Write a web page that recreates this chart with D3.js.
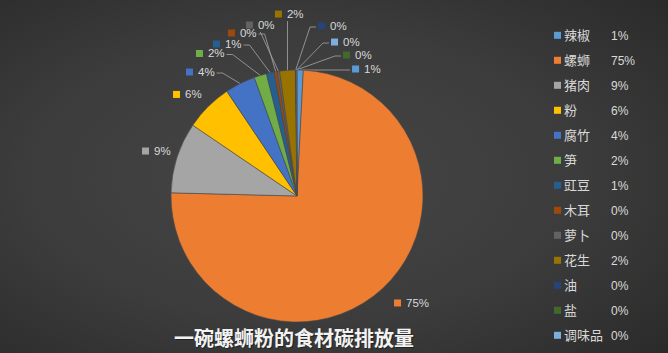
<!DOCTYPE html>
<html>
<head>
<meta charset="utf-8">
<script src="https://cdn.jsdelivr.net/npm/d3@7"></script>
<style>
  html, body { margin: 0; padding: 0; background: #333; }
  svg { display: block; }
</style>
</head>
<body>
<div id="chart"></div>
<script>
// data (share of total, %)
var names = ["辣椒", "螺蛳", "猪肉", "粉", "腐竹", "笋", "豇豆", "木耳", "萝卜", "花生", "油", "盐", "调味品"];
var shares = [0.8, 74.6, 9.1, 6.1, 3.9, 1.6, 1.0, 0.4, 0.3, 2.0, 0.08, 0.04, 0.08];
var colors = ["#5B9BD5", "#ED7D31", "#A5A5A5", "#FFC000", "#4472C4", "#70AD47",
              "#255E91", "#9E480E", "#636363", "#997300", "#264478", "#43682B", "#7CAFDD"];
var title = "一碗螺蛳粉的食材碳排放量";

// where each data label sits, relative to pie centre, in units of radius
var labelAt = [[0.437, -1.008], [0.770, 0.849], [-1.230, -0.357], [-0.984, -0.806],
               [-0.881, -0.984], [-0.802, -1.131], [-0.667, -1.206], [-0.548, -1.294],
               [-0.405, -1.357], [-0.175, -1.444], [0.167, -1.349], [0.365, -1.119],
               [0.270, -1.222]];

var width = 668, height = 353;
var cx = 297, cy = 196, r = 126;

var svg = d3.select("#chart").append("svg")
    .attr("width", width)
    .attr("height", height);

var defs = svg.append("defs");
var grad = defs.append("radialGradient")
    .attr("id", "bg")
    .attr("cx", "45%").attr("cy", "50%").attr("r", "75%");
grad.append("stop").attr("offset", "0%").attr("stop-color", "#464646");
grad.append("stop").attr("offset", "55%").attr("stop-color", "#3c3c3c");
grad.append("stop").attr("offset", "100%").attr("stop-color", "#2a2a2a");

svg.append("rect")
    .attr("width", width)
    .attr("height", height)
    .attr("fill", "url(#bg)");

var total = d3.sum(shares);
var pct = d3.format(".0%");

var pie = d3.pie().sort(null).value(function(d) { return d; });
var arcs = pie(shares);

var arc = d3.arc().innerRadius(0).outerRadius(r);

var g = svg.append("g").attr("transform", "translate(" + cx + "," + cy + ")");

g.selectAll(".slice")
  .data(arcs)
  .enter()
  .append("path")
  .attr("class", "slice")
  .attr("d", arc)
  .attr("fill", function(d, i) { return colors[i]; })
  .attr("stroke", "#4a4a4a")
  .attr("stroke-width", 0.6);

// data labels
var lab = g.selectAll(".lab")
  .data(arcs)
  .enter()
  .append("g")
  .attr("class", "lab")
  .attr("transform", function(d, i) {
      return "translate(" + (labelAt[i][0] * r) + "," + (labelAt[i][1] * r) + ")";
  });

lab.append("rect")
  .attr("x", 0).attr("y", -3.5)
  .attr("width", 7).attr("height", 7)
  .attr("fill", function(d, i) { return colors[i]; });

lab.append("text")
  .attr("x", 12)
  .attr("y", 4)
  .attr("fill", "#D9D9D9")
  .style("font-family", "'Liberation Sans', Arial, sans-serif")
  .style("font-size", "11.5px")
  .text(function(d) { return pct(d.value / total); });

// leader lines, only where the label is away from its slice
var leaders = g.append("g").lower();
g.select(".slice").lower();
lab.each(function(d, i) {
  var lx = labelAt[i][0] * r, ly = labelAt[i][1] * r;
  var tw = d3.select(this).select("text").node().getComputedTextLength();
  var x0 = lx - 2, x1 = lx + 12 + tw + 2, y0 = ly - 7, y1 = ly + 7;
  var mid = (d.startAngle + d.endAngle) / 2;
  var ax = Math.sin(mid) * r, ay = -Math.cos(mid) * r;
  var nx = Math.max(x0, Math.min(ax, x1)), ny = Math.max(y0, Math.min(ay, y1));
  if (Math.hypot(ax - nx, ay - ny) < 20) return;
  var bx = (x0 + x1) / 2, by = (y0 + y1) / 2;
  var dx = ax - bx, dy = ay - by;
  var pts;
  if (Math.abs(dx) > Math.abs(dy) * 0.75) {
    var sx = dx > 0 ? x1 : x0;
    var stub = dx > 0 ? 6 : -6;
    pts = [[sx, by + 1], [sx + stub, by + 1], [ax, ay]];
  } else {
    var ex = Math.abs(dx) < (x1 - x0) / 2 ? ax : bx;
    pts = [[ex, dy > 0 ? y1 : y0], [ax, ay]];
  }
  leaders.append("path")
    .attr("d", d3.line()(pts))
    .attr("fill", "none")
    .attr("stroke", "#A6A6A6")
    .attr("stroke-width", 0.8);
});
g.selectAll(".slice").raise();
lab.raise();

// legend
var legend = svg.append("g").attr("class", "legend");
var ly = d3.scalePoint().domain(names).range([35.3, 335.3]);

var row = legend.selectAll(".row")
  .data(names)
  .enter()
  .append("g")
  .attr("class", "row")
  .attr("transform", function(d) { return "translate(0," + ly(d) + ")"; });

row.append("rect")
  .attr("x", 554).attr("y", -3.5)
  .attr("width", 7).attr("height", 7)
  .attr("fill", function(d, i) { return colors[i]; });

row.append("text")
  .attr("x", 564)
  .attr("y", 4.5)
  .attr("fill", "#D9D9D9")
  .style("font-family", "'Noto Sans CJK SC', sans-serif")
  .style("font-size", "13px")
  .text(function(d) { return d; });

row.append("text")
  .attr("x", 611)
  .attr("y", 4.5)
  .attr("fill", "#D9D9D9")
  .style("font-family", "'Liberation Sans', Arial, sans-serif")
  .style("font-size", "12px")
  .text(function(d, i) { return pct(shares[i] / total); });

// title
svg.append("text")
  .attr("x", 295).attr("y", 347)
  .attr("text-anchor", "middle")
  .attr("fill", "#1a1a1a")
  .attr("opacity", 0.7)
  .style("font-family", "'Noto Sans CJK SC', sans-serif")
  .style("font-weight", "bold")
  .style("font-size", "20px")
  .text(title);

svg.append("text")
  .attr("x", 294).attr("y", 346)
  .attr("text-anchor", "middle")
  .attr("fill", "#F2F2F2")
  .style("font-family", "'Noto Sans CJK SC', sans-serif")
  .style("font-weight", "bold")
  .style("font-size", "20px")
  .text(title);
</script>
</body>
</html>
